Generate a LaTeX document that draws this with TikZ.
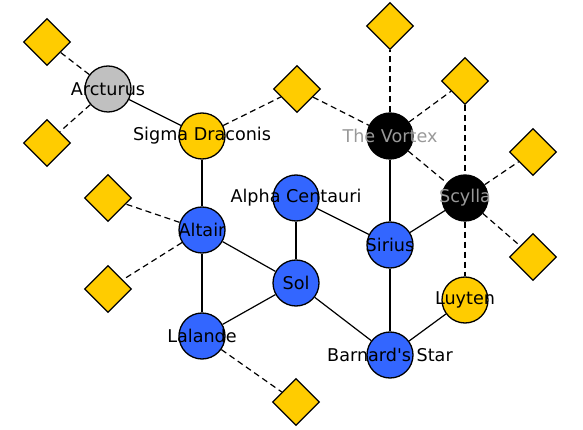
\documentclass[tikz,border=0pt]{standalone}
\usepackage{fontspec}
\setmainfont{DejaVu Sans}
\usetikzlibrary{shapes.geometric,backgrounds}
\definecolor{starblue}{HTML}{3366FF}
\definecolor{staryellow}{HTML}{FFCC00}
\definecolor{stargrey}{HTML}{C0C0C0}
\definecolor{labelgrey}{HTML}{999999}
\tikzset{
  font=\fontsize{17.6}{19}\selectfont,
  star/.style={draw=black,line width=1.3pt,circle,minimum size=46pt,inner sep=0pt},
  blue/.style={star,fill=starblue},
  yellow/.style={star,fill=staryellow},
  grey/.style={star,fill=stargrey},
  dark/.style={star,fill=black},
  depot/.style={draw=black,line width=1.3pt,diamond,fill=staryellow,
                minimum size=47pt,inner sep=0pt},
  lane/.style={line width=1.2pt,draw=black},
  warp/.style={lane,dash pattern=on 6pt off 4pt},
  lbl/.style={label={[inner sep=0pt]center:#1}},
  dimlbl/.style={label={[inner sep=0pt,text=labelgrey]center:#1}},
}

\begin{document}
\begin{tikzpicture}[x=1pt,y=-1pt]
  \useasboundingbox (0,0) rectangle (583,430);

  % stars
  \node[grey,lbl=Arcturus] (arct) at (108,89) {};
  \node[yellow,lbl=Sigma Draconis] (sigma) at (202,136) {};
  \node[dark,dimlbl=The Vortex] (vortex) at (390,136) {};
  \node[dark,dimlbl=Scylla] (scylla) at (465,198) {};
  \node[blue,lbl=Alpha Centauri] (alpha) at (296,198) {};
  \node[blue,lbl=Altair] (altair) at (202,230) {};
  \node[blue,lbl=Sirius] (sirius) at (390,245) {};
  \node[blue,lbl=Sol] (sol) at (296,283) {};
  \node[yellow,lbl=Luyten] (luyten) at (465,300) {};
  \node[blue,lbl=Lalande] (lalande) at (202,336) {};
  \node[blue,lbl={Barnard\textquotesingle s Star}] (barnard) at (390,355) {};

  % depots
  \node[depot] (d1) at (47,42) {};
  \node[depot] (d2) at (47,143) {};
  \node[depot] (d3) at (297,89) {};
  \node[depot] (d4) at (390,26) {};
  \node[depot] (d5) at (465,81) {};
  \node[depot] (d6) at (533,152) {};
  \node[depot] (d7) at (533,257) {};
  \node[depot] (d8) at (108,198) {};
  \node[depot] (d9) at (108,289) {};
  \node[depot] (d10) at (296,402) {};

  \begin{scope}[on background layer]
    \draw[lane] (arct) -- (sigma);
    \draw[lane] (sigma) -- (altair);
    \draw[lane] (altair) -- (sol);
    \draw[lane] (altair) -- (lalande);
    \draw[lane] (lalande) -- (sol);
    \draw[lane] (sol) -- (alpha);
    \draw[lane] (sol) -- (barnard);
    \draw[lane] (alpha) -- (sirius);
    \draw[lane] (sirius) -- (vortex);
    \draw[lane] (sirius) -- (scylla);
    \draw[lane] (sirius) -- (barnard);
    \draw[lane] (barnard) -- (luyten);

    \draw[warp] (arct) -- (d1);
    \draw[warp] (arct) -- (d2);
    \draw[warp] (sigma) -- (d3);
    \draw[warp] (d3) -- (vortex);
    \draw[warp] (vortex) -- (d4);
    \draw[warp] (vortex) -- (d5);
    \draw[warp] (vortex) -- (scylla);
    \draw[warp] (d5) -- (scylla);
    \draw[warp] (scylla) -- (d6);
    \draw[warp] (scylla) -- (d7);
    \draw[warp] (scylla) -- (luyten);
    \draw[warp] (altair) -- (d8);
    \draw[warp] (altair) -- (d9);
    \draw[warp] (lalande) -- (d10);
  \end{scope}
\end{tikzpicture}
\end{document}
